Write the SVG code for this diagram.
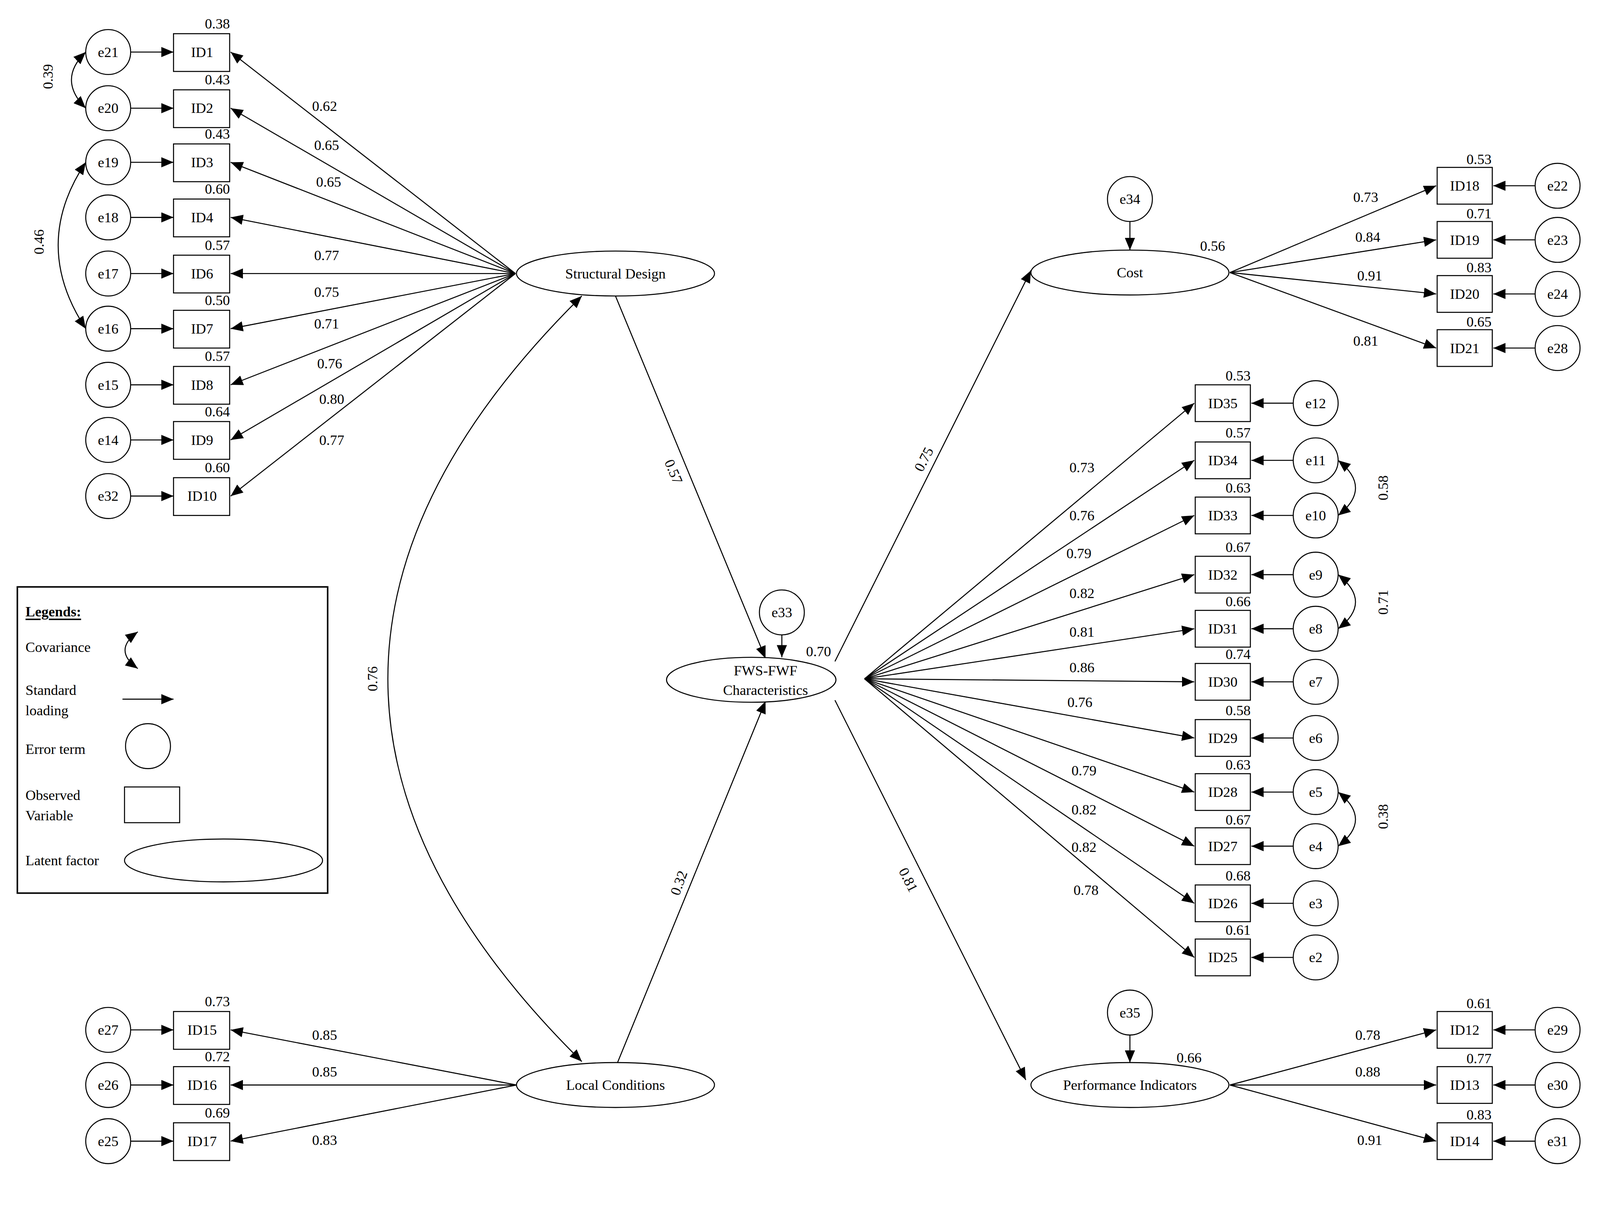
<svg xmlns="http://www.w3.org/2000/svg" width="4264" height="3136" viewBox="0 0 4264 3136">
<style>
text{font-family:"Liberation Serif","Times New Roman",serif;font-size:14px;fill:#000;text-anchor:middle;dominant-baseline:central}
.n{fill:#fff;stroke:#000;stroke-width:1}
.c line,.c path{stroke:#000;stroke-width:1;fill:none}
.a{marker-end:url(#ah)}
.b{marker-end:url(#ah);marker-start:url(#ah)}
.l{text-anchor:start}
</style>
<defs>
<marker id="ah" markerUnits="userSpaceOnUse" markerWidth="13" markerHeight="10" refX="12" refY="5" orient="auto-start-reverse"><path d="M0,0 L12,5 L0,10 z" fill="#000"/></marker>
</defs>
<rect width="4264" height="3136" fill="#fff"/>
<g transform="scale(2.613)">
<g class="c" id="connectors">
<line class="a" x1="128" y1="51" x2="170" y2="51"/><line class="a" x1="128" y1="106" x2="170" y2="106"/><line class="a" x1="128" y1="159" x2="170" y2="159"/><line class="a" x1="128" y1="213" x2="170" y2="213"/><line class="a" x1="128" y1="268" x2="170" y2="268"/><line class="a" x1="128" y1="322" x2="170" y2="322"/><line class="a" x1="128" y1="377" x2="170" y2="377"/><line class="a" x1="128" y1="431" x2="170" y2="431"/><line class="a" x1="128" y1="486" x2="170" y2="486"/>
<line class="a" x1="128" y1="1009" x2="170" y2="1009"/><line class="a" x1="128" y1="1063" x2="170" y2="1063"/><line class="a" x1="128" y1="1118" x2="170" y2="1118"/>
<line class="a" x1="505" y1="268" x2="226" y2="51"/><line class="a" x1="505" y1="268" x2="226" y2="106"/><line class="a" x1="505" y1="268" x2="226" y2="159"/><line class="a" x1="505" y1="268" x2="226" y2="213"/><line class="a" x1="505" y1="268" x2="226" y2="268"/><line class="a" x1="505" y1="268" x2="226" y2="322"/><line class="a" x1="505" y1="268" x2="226" y2="377"/><line class="a" x1="505" y1="268" x2="226" y2="431"/><line class="a" x1="505" y1="268" x2="226" y2="486"/>
<line class="a" x1="506" y1="1063" x2="226" y2="1009"/><line class="a" x1="506" y1="1063" x2="226" y2="1063"/><line class="a" x1="506" y1="1063" x2="226" y2="1118"/>
<path class="b" d="M84,51 Q56,78 84,106"/>
<path class="b" d="M84,159 Q30,240 84,322"/>
<path class="b" d="M570,290 Q190,665 570,1040"/>
<path class="b" d="M1311,451 Q1345,478 1311,505"/>
<path class="b" d="M1311,563 Q1345,590 1311,616"/>
<path class="b" d="M1311,776 Q1345,803 1311,829"/>
<line class="a" x1="603" y1="290" x2="750" y2="645"/>
<line class="a" x1="605" y1="1041" x2="750" y2="687"/>
<line class="a" x1="766" y1="622" x2="766" y2="644"/>
<line class="a" x1="818" y1="648" x2="1010" y2="265"/>
<line class="a" x1="818" y1="686" x2="1005" y2="1058"/>
<line class="a" x1="1107" y1="217" x2="1107" y2="245"/>
<line class="a" x1="1107" y1="1014" x2="1107" y2="1041"/>
<line class="a" x1="1205" y1="267" x2="1407" y2="182"/><line class="a" x1="1205" y1="267" x2="1407" y2="235"/><line class="a" x1="1205" y1="267" x2="1407" y2="288"/><line class="a" x1="1205" y1="267" x2="1407" y2="341"/>
<line class="a" x1="1504" y1="182" x2="1463" y2="182"/><line class="a" x1="1504" y1="235" x2="1463" y2="235"/><line class="a" x1="1504" y1="288" x2="1463" y2="288"/><line class="a" x1="1504" y1="341" x2="1463" y2="341"/>
<line class="a" x1="1205" y1="1063" x2="1407" y2="1009"/><line class="a" x1="1205" y1="1063" x2="1407" y2="1063"/><line class="a" x1="1205" y1="1063" x2="1407" y2="1118"/>
<line class="a" x1="1504" y1="1009" x2="1463" y2="1009"/><line class="a" x1="1504" y1="1063" x2="1463" y2="1063"/><line class="a" x1="1504" y1="1118" x2="1463" y2="1118"/>
<line class="a" x1="847" y1="665" x2="1170" y2="395"/><line class="a" x1="847" y1="665" x2="1170" y2="451"/><line class="a" x1="847" y1="665" x2="1170" y2="505"/><line class="a" x1="847" y1="665" x2="1170" y2="563"/><line class="a" x1="847" y1="665" x2="1170" y2="616"/><line class="a" x1="847" y1="665" x2="1170" y2="668"/><line class="a" x1="847" y1="665" x2="1170" y2="723"/><line class="a" x1="847" y1="665" x2="1170" y2="776"/><line class="a" x1="847" y1="665" x2="1170" y2="829"/><line class="a" x1="847" y1="665" x2="1170" y2="885"/><line class="a" x1="847" y1="665" x2="1170" y2="938"/>
<line class="a" x1="1267" y1="395" x2="1226" y2="395"/><line class="a" x1="1267" y1="451" x2="1226" y2="451"/><line class="a" x1="1267" y1="505" x2="1226" y2="505"/><line class="a" x1="1267" y1="563" x2="1226" y2="563"/><line class="a" x1="1267" y1="616" x2="1226" y2="616"/><line class="a" x1="1267" y1="668" x2="1226" y2="668"/><line class="a" x1="1267" y1="723" x2="1226" y2="723"/><line class="a" x1="1267" y1="776" x2="1226" y2="776"/><line class="a" x1="1267" y1="829" x2="1226" y2="829"/><line class="a" x1="1267" y1="885" x2="1226" y2="885"/><line class="a" x1="1267" y1="938" x2="1226" y2="938"/>
</g>
<g id="edge-labels">
<text x="318" y="104">0.62</text><text x="320" y="142">0.65</text><text x="322" y="178">0.65</text><text x="320" y="250">0.77</text><text x="320" y="286">0.75</text><text x="320" y="317">0.71</text><text x="323" y="356">0.76</text><text x="325" y="391">0.80</text><text x="325" y="431">0.77</text>
<text x="318" y="1014">0.85</text><text x="318" y="1050">0.85</text><text x="318" y="1117">0.83</text>
<text transform="translate(47,75) rotate(-90)">0.39</text>
<text transform="translate(38,237) rotate(-90)">0.46</text>
<text transform="translate(365,665) rotate(-90)">0.76</text>
<text transform="translate(1355,478) rotate(-90)">0.58</text>
<text transform="translate(1355,590) rotate(-90)">0.71</text>
<text transform="translate(1355,800) rotate(-90)">0.38</text>
<text transform="translate(660,462) rotate(67)">0.57</text>
<text transform="translate(665,865) rotate(-70)">0.32</text>
<text transform="translate(905,450) rotate(-63)">0.75</text>
<text transform="translate(890,862) rotate(63)">0.81</text>
<text x="802" y="638">0.70</text><text x="1188" y="241">0.56</text><text x="1165" y="1036">0.66</text>
<text x="1338" y="193">0.73</text><text x="1340" y="232">0.84</text><text x="1342" y="270">0.91</text><text x="1338" y="334">0.81</text>
<text x="1340" y="1014">0.78</text><text x="1340" y="1050">0.88</text><text x="1342" y="1117">0.91</text>
<text x="1060" y="458">0.73</text><text x="1060" y="505">0.76</text><text x="1057" y="542">0.79</text><text x="1060" y="581">0.82</text><text x="1060" y="619">0.81</text><text x="1060" y="654">0.86</text><text x="1058" y="688">0.76</text><text x="1062" y="755">0.79</text><text x="1062" y="793">0.82</text><text x="1062" y="830">0.82</text><text x="1064" y="872">0.78</text>
</g>
<g id="latents">
<g id="sd"><ellipse class="n" cx="603" cy="268" rx="97" ry="22"/><text x="603" y="268">Structural Design</text></g>
<g id="lc"><ellipse class="n" cx="603" cy="1063" rx="97" ry="22"/><text x="603" y="1063">Local Conditions</text></g>
<g id="fws"><ellipse class="n" cx="736" cy="666" rx="83" ry="22"/><text x="750" y="657">FWS-FWF</text><text x="750" y="676">Characteristics</text></g>
<g id="cost"><ellipse class="n" cx="1107" cy="267" rx="97" ry="22"/><text x="1107" y="267">Cost</text></g>
<g id="perf"><ellipse class="n" cx="1107" cy="1063" rx="97" ry="22"/><text x="1107" y="1063">Performance Indicators</text></g>
</g>
<g id="errors">
<g id="e21"><circle class="n" cx="106" cy="51" r="22"/><text x="106" y="51">e21</text></g>
<g id="e20"><circle class="n" cx="106" cy="106" r="22"/><text x="106" y="106">e20</text></g>
<g id="e19"><circle class="n" cx="106" cy="159" r="22"/><text x="106" y="159">e19</text></g>
<g id="e18"><circle class="n" cx="106" cy="213" r="22"/><text x="106" y="213">e18</text></g>
<g id="e17"><circle class="n" cx="106" cy="268" r="22"/><text x="106" y="268">e17</text></g>
<g id="e16"><circle class="n" cx="106" cy="322" r="22"/><text x="106" y="322">e16</text></g>
<g id="e15"><circle class="n" cx="106" cy="377" r="22"/><text x="106" y="377">e15</text></g>
<g id="e14"><circle class="n" cx="106" cy="431" r="22"/><text x="106" y="431">e14</text></g>
<g id="e32"><circle class="n" cx="106" cy="486" r="22"/><text x="106" y="486">e32</text></g>
<g id="e27"><circle class="n" cx="106" cy="1009" r="22"/><text x="106" y="1009">e27</text></g>
<g id="e26"><circle class="n" cx="106" cy="1063" r="22"/><text x="106" y="1063">e26</text></g>
<g id="e25"><circle class="n" cx="106" cy="1118" r="22"/><text x="106" y="1118">e25</text></g>
<g id="e33"><circle class="n" cx="766" cy="600" r="22"/><text x="766" y="600">e33</text></g>
<g id="e34"><circle class="n" cx="1107" cy="195" r="22"/><text x="1107" y="195">e34</text></g>
<g id="e35"><circle class="n" cx="1107" cy="992" r="22"/><text x="1107" y="992">e35</text></g>
<g id="e22"><circle class="n" cx="1526" cy="182" r="22"/><text x="1526" y="182">e22</text></g>
<g id="e23"><circle class="n" cx="1526" cy="235" r="22"/><text x="1526" y="235">e23</text></g>
<g id="e24"><circle class="n" cx="1526" cy="288" r="22"/><text x="1526" y="288">e24</text></g>
<g id="e28"><circle class="n" cx="1526" cy="341" r="22"/><text x="1526" y="341">e28</text></g>
<g id="e29"><circle class="n" cx="1526" cy="1009" r="22"/><text x="1526" y="1009">e29</text></g>
<g id="e30"><circle class="n" cx="1526" cy="1063" r="22"/><text x="1526" y="1063">e30</text></g>
<g id="e31"><circle class="n" cx="1526" cy="1118" r="22"/><text x="1526" y="1118">e31</text></g>
<g id="e12"><circle class="n" cx="1289" cy="395" r="22"/><text x="1289" y="395">e12</text></g>
<g id="e11"><circle class="n" cx="1289" cy="451" r="22"/><text x="1289" y="451">e11</text></g>
<g id="e10"><circle class="n" cx="1289" cy="505" r="22"/><text x="1289" y="505">e10</text></g>
<g id="e9"><circle class="n" cx="1289" cy="563" r="22"/><text x="1289" y="563">e9</text></g>
<g id="e8"><circle class="n" cx="1289" cy="616" r="22"/><text x="1289" y="616">e8</text></g>
<g id="e7"><circle class="n" cx="1289" cy="668" r="22"/><text x="1289" y="668">e7</text></g>
<g id="e6"><circle class="n" cx="1289" cy="723" r="22"/><text x="1289" y="723">e6</text></g>
<g id="e5"><circle class="n" cx="1289" cy="776" r="22"/><text x="1289" y="776">e5</text></g>
<g id="e4"><circle class="n" cx="1289" cy="829" r="22"/><text x="1289" y="829">e4</text></g>
<g id="e3"><circle class="n" cx="1289" cy="885" r="22"/><text x="1289" y="885">e3</text></g>
<g id="e2"><circle class="n" cx="1289" cy="938" r="22"/><text x="1289" y="938">e2</text></g>
</g>
<g id="observed">
<g id="ID1"><rect class="n" x="170" y="33" width="55" height="37"/><text x="198" y="51">ID1</text><text x="213" y="23">0.38</text></g>
<g id="ID2"><rect class="n" x="170" y="88" width="55" height="37"/><text x="198" y="106">ID2</text><text x="213" y="78">0.43</text></g>
<g id="ID3"><rect class="n" x="170" y="141" width="55" height="37"/><text x="198" y="159">ID3</text><text x="213" y="131">0.43</text></g>
<g id="ID4"><rect class="n" x="170" y="195" width="55" height="37"/><text x="198" y="213">ID4</text><text x="213" y="185">0.60</text></g>
<g id="ID6"><rect class="n" x="170" y="250" width="55" height="37"/><text x="198" y="268">ID6</text><text x="213" y="240">0.57</text></g>
<g id="ID7"><rect class="n" x="170" y="304" width="55" height="37"/><text x="198" y="322">ID7</text><text x="213" y="294">0.50</text></g>
<g id="ID8"><rect class="n" x="170" y="359" width="55" height="37"/><text x="198" y="377">ID8</text><text x="213" y="349">0.57</text></g>
<g id="ID9"><rect class="n" x="170" y="413" width="55" height="37"/><text x="198" y="431">ID9</text><text x="213" y="403">0.64</text></g>
<g id="ID10"><rect class="n" x="170" y="468" width="55" height="37"/><text x="198" y="486">ID10</text><text x="213" y="458">0.60</text></g>
<g id="ID15"><rect class="n" x="170" y="991" width="55" height="37"/><text x="198" y="1009">ID15</text><text x="213" y="981">0.73</text></g>
<g id="ID16"><rect class="n" x="170" y="1045" width="55" height="37"/><text x="198" y="1063">ID16</text><text x="213" y="1035">0.72</text></g>
<g id="ID17"><rect class="n" x="170" y="1100" width="55" height="37"/><text x="198" y="1118">ID17</text><text x="213" y="1090">0.69</text></g>
<g id="ID18"><rect class="n" x="1408" y="164" width="54" height="36"/><text x="1435" y="182">ID18</text><text x="1449" y="156">0.53</text></g>
<g id="ID19"><rect class="n" x="1408" y="217" width="54" height="36"/><text x="1435" y="235">ID19</text><text x="1449" y="209">0.71</text></g>
<g id="ID20"><rect class="n" x="1408" y="270" width="54" height="36"/><text x="1435" y="288">ID20</text><text x="1449" y="262">0.83</text></g>
<g id="ID21"><rect class="n" x="1408" y="323" width="54" height="36"/><text x="1435" y="341">ID21</text><text x="1449" y="315">0.65</text></g>
<g id="ID12"><rect class="n" x="1408" y="991" width="54" height="36"/><text x="1435" y="1009">ID12</text><text x="1449" y="983">0.61</text></g>
<g id="ID13"><rect class="n" x="1408" y="1045" width="54" height="36"/><text x="1435" y="1063">ID13</text><text x="1449" y="1037">0.77</text></g>
<g id="ID14"><rect class="n" x="1408" y="1100" width="54" height="36"/><text x="1435" y="1118">ID14</text><text x="1449" y="1092">0.83</text></g>
<g id="ID35"><rect class="n" x="1171" y="377" width="54" height="36"/><text x="1198" y="395">ID35</text><text x="1213" y="368">0.53</text></g>
<g id="ID34"><rect class="n" x="1171" y="433" width="54" height="36"/><text x="1198" y="451">ID34</text><text x="1213" y="424">0.57</text></g>
<g id="ID33"><rect class="n" x="1171" y="487" width="54" height="36"/><text x="1198" y="505">ID33</text><text x="1213" y="478">0.63</text></g>
<g id="ID32"><rect class="n" x="1171" y="545" width="54" height="36"/><text x="1198" y="563">ID32</text><text x="1213" y="536">0.67</text></g>
<g id="ID31"><rect class="n" x="1171" y="598" width="54" height="36"/><text x="1198" y="616">ID31</text><text x="1213" y="589">0.66</text></g>
<g id="ID30"><rect class="n" x="1171" y="650" width="54" height="36"/><text x="1198" y="668">ID30</text><text x="1213" y="641">0.74</text></g>
<g id="ID29"><rect class="n" x="1171" y="705" width="54" height="36"/><text x="1198" y="723">ID29</text><text x="1213" y="696">0.58</text></g>
<g id="ID28"><rect class="n" x="1171" y="758" width="54" height="36"/><text x="1198" y="776">ID28</text><text x="1213" y="749">0.63</text></g>
<g id="ID27"><rect class="n" x="1171" y="811" width="54" height="36"/><text x="1198" y="829">ID27</text><text x="1213" y="803">0.67</text></g>
<g id="ID26"><rect class="n" x="1171" y="867" width="54" height="36"/><text x="1198" y="885">ID26</text><text x="1213" y="858">0.68</text></g>
<g id="ID25"><rect class="n" x="1171" y="920" width="54" height="36"/><text x="1198" y="938">ID25</text><text x="1213" y="911">0.61</text></g>
</g>
<g id="legend">
<rect x="17" y="575" width="304" height="300" fill="#fff" stroke="#000" stroke-width="1.5"/>
<text class="l" x="25" y="599" font-weight="bold" text-decoration="underline">Legends:</text>
<text class="l" x="25" y="634">Covariance</text>
<path d="M135,619 Q110,637 135,655" fill="none" stroke="#000" class="b"/>
<text class="l" x="25" y="676">Standard</text><text class="l" x="25" y="696">loading</text>
<line x1="120" y1="685" x2="170" y2="685" stroke="#000" class="a"/>
<text class="l" x="25" y="734">Error term</text>
<circle class="n" cx="145" cy="731" r="22"/>
<text class="l" x="25" y="779">Observed</text><text class="l" x="25" y="799">Variable</text>
<rect class="n" x="122" y="771" width="54" height="35"/>
<text class="l" x="25" y="843">Latent factor</text>
<ellipse class="n" cx="219" cy="843" rx="97" ry="21"/>
</g>
</g>
</svg>
